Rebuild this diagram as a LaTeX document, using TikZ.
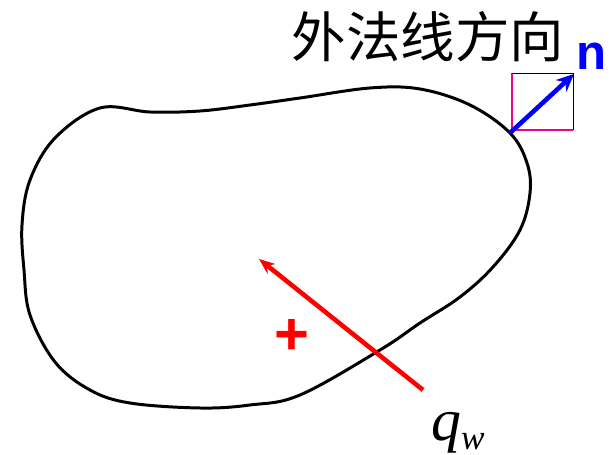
\documentclass[tikz,border=0pt]{standalone}
\usepackage{fontspec}
\usepackage{amsmath}
\usepackage{tikz}
\usetikzlibrary{arrows.meta}
\newfontfamily\cjkfont{Noto Sans CJK SC}
\newfontfamily\arialfont{Liberation Sans}
\newfontfamily\timesfont{Liberation Serif}

\begin{document}
\begin{tikzpicture}[x=0.02cm, y=-0.02cm]
                \useasboundingbox (0,0) rectangle (612,455);
                % Draw the closed boundary
                \draw[black, line width=1.7pt, line join=round]
                    plot[smooth cycle, tension=0.6] coordinates {
                    (100,108) (150,112) (200,111) (250,105) (300,98)
                    (370,88) (420,89) (470,105) (510,133) (527,163)
                    (530,193) (520,230) (493,267) (460,297) (420,323)
                    (380,350) (300,395) (250,405) (200,408) (130,403)
                    (90,390) (55,362) (30,315) (24,270) (22,225)
                    (30,180) (55,138)};

                % Small frame at the normal
                \draw[magenta, thick] (512,73) -- (512,130) -- (573,130);
                \draw[black, thin] (512,73) -- (573,73) -- (573,130);

                % Outward normal
                \coordinate (nbase) at (510,133);
                \coordinate (ntip) at (574,74);
                \draw[blue, line width=2.6pt, -{Stealth[length=10pt, width=9pt]}] (nbase) -- (ntip);
                \node[text=blue, font=\arialfont\bfseries\fontsize{28}{32}\selectfont] (nlabel) at (592,56) {n};

                % Label of the normal direction
                \node[font=\cjkfont\fontsize{31}{36}\selectfont] (title) at (428,37) {外法线方向};

                % Flux arrow and sign
                \coordinate (qtail) at (423,390);
                \coordinate (qtip) at (259,259);
                \draw[red, line width=2.6pt, -{Stealth[length=9pt, width=7pt]}] (qtail) -- (qtip);
                \node[text=red, font=\arialfont\bfseries\fontsize{34}{38}\selectfont] (plus) at (292,337) {+};
                \node[font=\timesfont\itshape\fontsize{34}{38}\selectfont] (qlabel) at (458,433)
                    {q\raisebox{-5pt}{\fontsize{20}{22}\selectfont w}};
            \end{tikzpicture}
\end{document}
